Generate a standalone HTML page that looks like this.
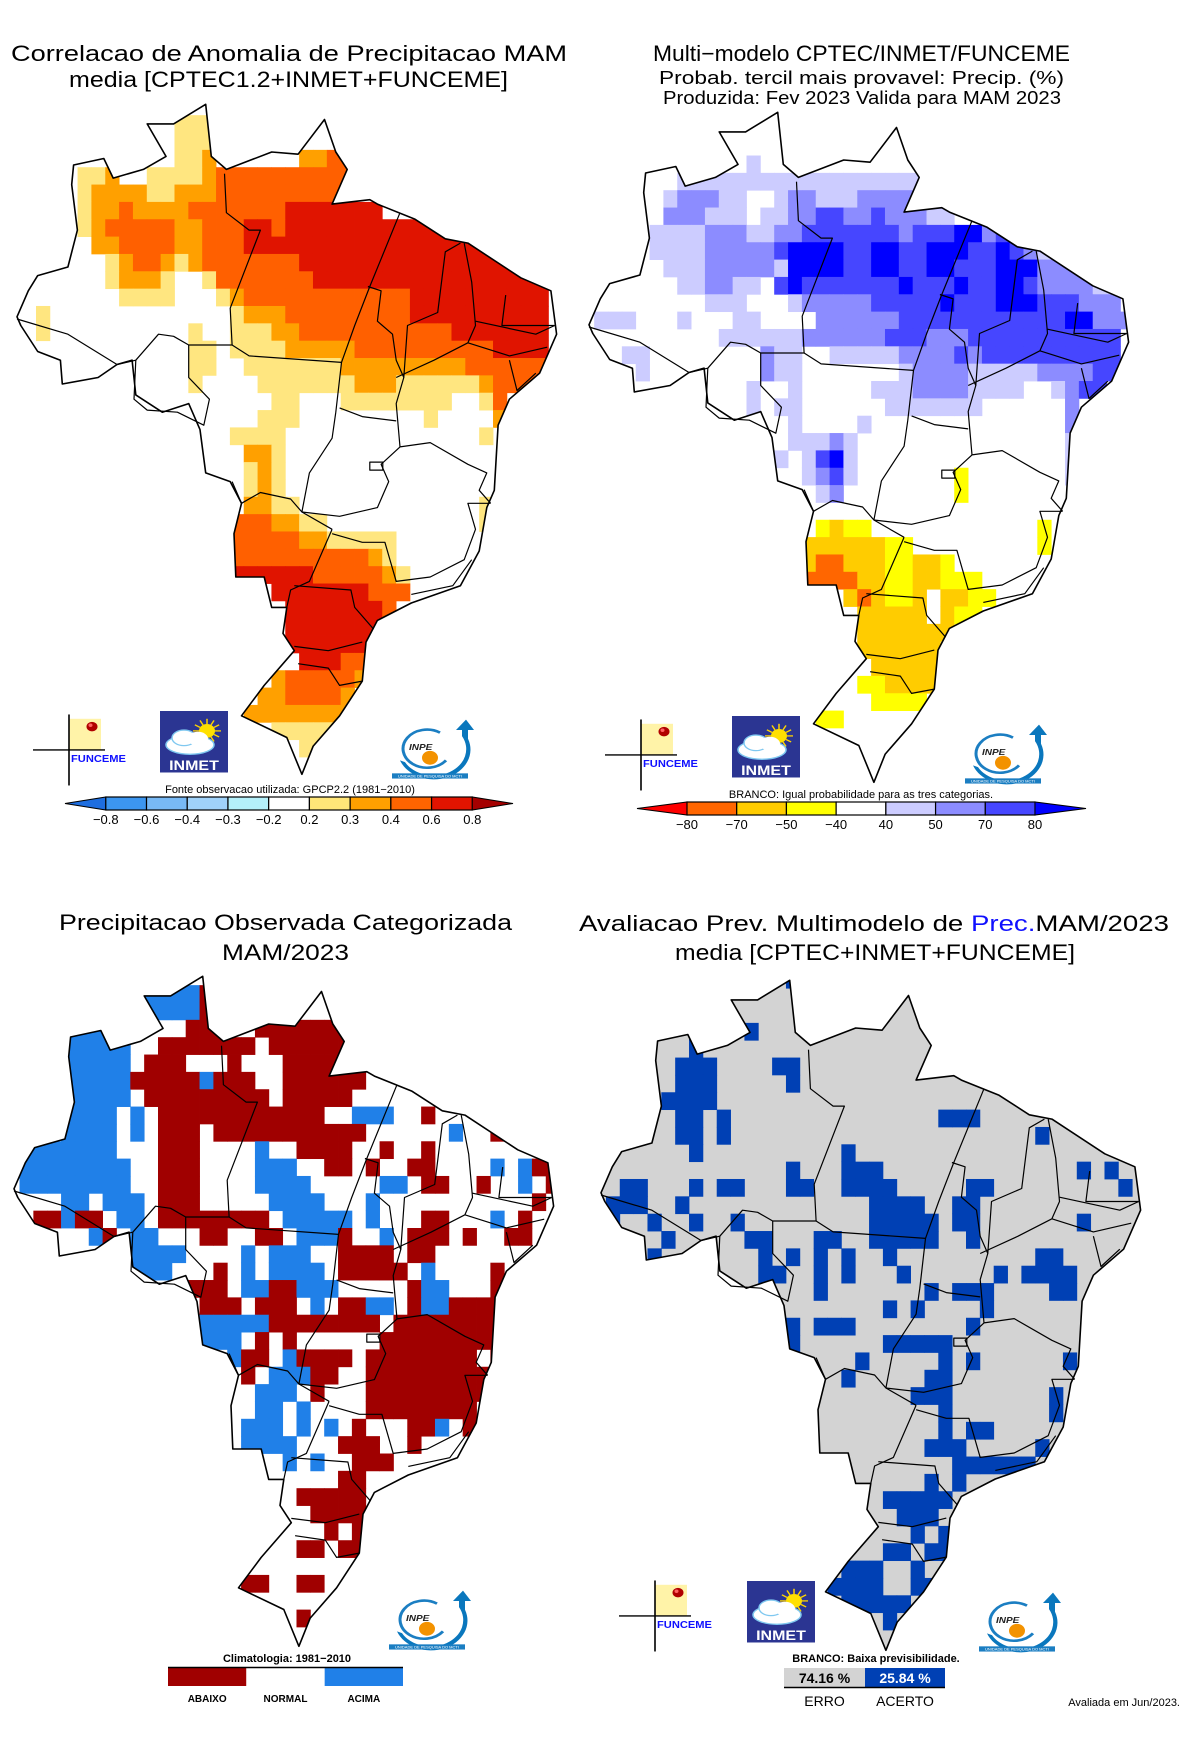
<!DOCTYPE html>
<html><head><meta charset="utf-8"><title>Precipitação MAM 2023</title>
<style>
html,body{margin:0;padding:0;background:#fff;}
svg{display:block;font-family:"Liberation Sans",sans-serif;}
</style></head>
<body>
<svg id="fig" xmlns="http://www.w3.org/2000/svg" width="1184" height="1748" viewBox="0 0 1184 1748">
<defs id="defs"></defs>
<g font-size="22" fill="#000">
<text x="11" y="61" textLength="556" lengthAdjust="spacingAndGlyphs">Correlacao de Anomalia de Precipitacao MAM</text>
<text x="69" y="87" textLength="439" lengthAdjust="spacingAndGlyphs">media [CPTEC1.2+INMET+FUNCEME]</text>
</g>
<g fill="#000">
<text x="653" y="61" font-size="22" textLength="417" lengthAdjust="spacingAndGlyphs">Multi−modelo CPTEC/INMET/FUNCEME</text>
<text x="659" y="84" font-size="18" textLength="405" lengthAdjust="spacingAndGlyphs">Probab. tercil mais provavel: Precip. (%)</text>
<text x="663" y="104" font-size="18" textLength="398" lengthAdjust="spacingAndGlyphs">Produzida: Fev 2023  Valida para MAM 2023</text>
</g>
<g font-size="22" fill="#000">
<text x="59" y="930" textLength="453" lengthAdjust="spacingAndGlyphs">Precipitacao Observada Categorizada</text>
<text x="222" y="960" textLength="127" lengthAdjust="spacingAndGlyphs">MAM/2023</text>
</g>
<g font-size="22" fill="#000">
<text x="579" y="931" textLength="590" lengthAdjust="spacingAndGlyphs">Avaliacao Prev. Multimodelo de <tspan fill="#1010ff">Prec.</tspan>MAM/2023</text>
<text x="675" y="960" textLength="400" lengthAdjust="spacingAndGlyphs">media [CPTEC+INMET+FUNCEME]</text>
</g>
<g id="maps"></g>
<g id="extras"></g>
</svg>
<script>
// ---------- DATA ----------
const tlColors = {Y:"#ffe680",O:"#ffa000",R:"#ff6000",D:"#e01400"};
const tlRows = [
"............YYY",
"............YYY",
"............YYO......OORR",
".....YYO..YYYYORRRRRRRRRR",
".....YOOOOYYOOORRRRRRRRRR",
".....YOOROOOORRRRRRRDDDDDDD",
".....YORRRRROORRRDDRDDDDDDDDDDDDDDDDDDDD",
"......OORRRROORRRDDDDDDDDDDDDDDDDDDDDDDD",
".......YORROYORRRRRRRDDDDDDDDDDDDDDDDDD",
".......YOOOY..YRRRRRRRDDDDDDDDDDDDDDDDD",
"........YYYY...YORRRRRRRRRRRRDDDDDDDDDD",
"..Y.............YOOORRRRRRRRRDDDDDDDDDD",
"..Y..........Y..YYYOORRRRRRRRRRRDDDDDDD",
".............YY.YYYYOOOOORRRRRRRRRRDDDD",
".............YY..YYYYYYYOOOOOOOOORRRRRR",
".............Y....YYYYYYYOOOYYYYYYORRR",
"...................YY...YYYYYYYY..YR",
"..................YYY.........Y....O",
"................YYYY..............Y",
".................OOY",
".................YOY",
".................YOY",
".................OOYY.............Y",
"................RRROOYY...........Y",
"................RRRRROOYYYYY",
"................RRRRRRRRRROY",
"................DDDDDDRRRRROY",
"...................DDDDDDDRRR",
"....................DDDDDDDR",
"....................DDDDDDD",
"....................DDDDDD",
".....................DDDRR",
"...................ORRRRRO",
"..................OORRRRO",
".................OOOOOOOO",
"...................YYYYY",
".....................YY"
];
const trColors = {a:"#ccccff",b:"#8c8cff",d:"#4646ff",e:"#0000ff",y:"#ffff00",g:"#ffcc00",O:"#ff6600"};
const trRows = [
"","","",
"............a",
".......aaaaaaaaaaaaaaaaaa",
"......abbbaa..abbaaabbbbaa",
"......bbbaaa.aabbddbbdbbbaa",
".....aaaabbbaabbdddddddbdddeebddd",
".....aaaabbbbbdeeeeddeeddeeeddedbaa",
"......aaabbbbbaeeeeddeeddeedddeeebbbaa",
".......aabbaa.dedddddddedddeddeedbbbbaa",
".........aaa...abbbbbdddddedddeeedddbbb",
".aaa...a...aa....bbbbbbddddddddddddeebbb",
"..........aaaaaabbbbbbdddbbbddddddddddd",
"...aa........baa..aaaaabbbbdbdddddddddd",
"....a........baa.......abbbbaaaaabbbbdd",
"............a..a.....aaabbbbaaaa..abdd",
"............a.aa......aaaaaaa......b",
"...............a....a..............b",
"...............aaaba...............a",
"..............a.adea...............a",
"................abda.......y.......a",
".................ab........y",
"",
".................ygyy............y",
"................ggggggyy.........y",
"................gOOgggyyggy",
"................OOOOggyyggyyy",
"...................gOgyyg.ggyy",
"....................ggggg.gyy",
"....................ggggggg",
"....................gggggg",
".....................ggggg",
"....................yygggg",
".....................yyyy",
".................yy"
];
const blColors = {R:"#a00000",B:"#2080e8"};
const blRows = [
"..........BBBBR",
"..........BBBBR",
"....BBBBB....RRR..RRRRRRR",
"....BBBBB..RRRRRRR.RRRRRR",
"....BBBBB.RRR...R...RRRRR",
"....BBBBBRRRRRBRRR..RRRRRR",
"....BBBBB.RRRRRRRRR.RRRRR...",
"....BBBB.B.RRRRRRRRRRRR..BBB..R",
"....BBBB.B.RRR.RRRRRRRRRRR......B..RR",
".BBBBBBB...RRR....B..RRRR..R..R",
".BBBBBBBB..RRR....BBB..RR.R..RR....B.BRR",
".BBBBBBBB..RRR....BBBB.....BB.RR..R..B.R",
"....BB.BBB.RRR.....BBBB...B...........R",
"..RRBRR.BB.RRRRRRRR.BBBBB.B...RR...B.R",
"......BR.BB...RR..RR.BBBR..B.RRR.R..RR",
".........BBBB....B.BBB..RRRR.RR",
".........BBB...R.B.BBBB.RRRRR.B....R",
".............RRR.BBRRBBB.....RBB...R",
"..............RRR.RRR.B.RRBB.RBBRRRR",
"..............BBBBBRRRRRRRR.RRRRRRRR",
"..............BBB.R.R......RRRRRRRRR",
"................BRR.BRRRR.RRRRRRRR.R",
".................R.BBBRR..RRRRRRRRRR",
"..................BBB.R...RRRRRRRRR",
"..................BB.B....RRRRRRRR",
".................BBB.B.B.R...RRB.R",
".................BBBB...RRR..R",
"....................B.B..RRR",
"........................RR",
".....................RRRRR",
"......................RRRR",
".......................R.R",
".....................RR.RR",
"",
".................RR..RR",
"",
".....................R"
];
const brColors = {B:"#0040b4"};
const brRows = [
"..............B","","",
".......B...B",
".......B",
"......BBB....BB",
"......BBB.....B",
".....BBBB",
"......BB.B...............BBB",
"......BB.B......................B",
".......B..........B",
"..............B...BBB..............B.B",
"..BB...B.BB...BB..BBBB.....BB.........B",
".BBB..B.............BBBB..BB",
".B..B..B..B.........BBBBB.BB.......B",
".....B.....BB...BB..BBBBB..B",
"....B.......B.B.B.B..B..........BB",
"............BB..B.B...B......B.BBBB",
"................B.......B.BBB....BB",
".....................B.B....B",
"..............B.BBB........B",
"..............B......BBBBB",
"...................B.....B.B......B",
"..................B.....BB",
".......................BBB.......B",
".........................B.......B",
".........................B.BB",
"........................BBB.....B",
"..........................BBBBBB",
"........................B.B",
".....................BBBBB",
"......................BBB",
".......................B.B",
".....................BB.BB",
"..................BBB..B",
".................BBBB..BB",
"..................BBBBB",
".....................B"
];
// colorbar data
const tlBarLabels = ["−0.8","−0.6","−0.4","−0.3","−0.2","0.2","0.3","0.4","0.6","0.8"];
const tlBarColors = ["#1e6ee0","#3c96f0","#78b9f5","#a0d2fa","#b4f0fa","#ffffff","#ffe678","#ffa000","#ff6400","#e11400","#a50000"];
const trBarLabels = ["−80","−70","−50","−40","40","50","70","80"];
const trBarColors = ["#ff0000","#ff6600","#ffcc00","#ffff00","#ffffff","#ccccff","#8c8cff","#4646ff","#0000ff"];
const blCats = ["ABAIXO","NORMAL","ACIMA"];
const blCatColors = ["#a00000","#ffffff","#2080e8"];
const brScores = ["74.16 %","25.84 %"];
const brScoreLabels = ["ERRO","ACERTO"];

// ---------- GEOMETRY ----------
const NS="http://www.w3.org/2000/svg";
const outlineZ=[[45,500],[75,440],[100,405],[180,385],[205,300],[190,195],[195,150],[275,135],[300,180],[380,160],[440,130],[390,55],[460,55],[545,10],[560,130],[600,160],[720,120],[790,125],[860,45],[890,120],[920,160],[880,240],[980,230],[1000,240],[1100,275],[1180,320],[1240,330],[1380,410],[1460,440],[1475,540],[1430,630],[1350,690],[1320,750],[1310,900],[1290,940],[1270,1040],[1220,1120],[1090,1160],[1000,1200],[970,1250],[960,1340],[900,1420],[830,1490],[800,1555],[760,1470],[640,1420],[700,1350],[780,1270],[750,1230],[760,1170],[720,1170],[700,1100],[625,1100],[620,1000],[640,930],[610,880],[545,860],[530,760],[500,700],[430,720],[360,680],[350,600],[310,610],[260,640],[165,655],[160,600],[100,580],[55,520]];
const bordersZ=[
[[595,170],[600,260],[660,300],[690,300],[610,480],[615,565]],
[[500,565],[615,565],[660,590],[905,605]],
[[45,505],[180,540],[310,610],[360,600],[420,540],[460,545],[500,565]],
[[360,600],[355,690],[390,715],[470,720],[540,750],[555,690],[500,640],[500,565]],
[[615,880],[640,930],[690,905],[770,920],[800,950],[880,990]],
[[905,605],[890,720],[880,780],[820,860],[800,950]],
[[905,605],[940,520],[980,430],[1060,260]],
[[975,430],[1010,440],[1000,510],[1040,540],[1050,600],[1070,640],[1050,700],[1060,800]],
[[1070,640],[1080,520],[1160,490],[1180,350],[1220,330]],
[[1230,330],[1250,420],[1260,520],[1240,560]],
[[1340,450],[1330,520],[1400,520],[1470,520]],
[[1260,510],[1420,540],[1470,520]],
[[1240,560],[1350,590],[1450,570]],
[[1050,640],[1150,600],[1240,560]],
[[1350,600],[1370,670],[1420,630]],
[[900,710],[960,730],[1050,740]],
[[1060,800],[1140,790],[1240,840],[1290,860],[1270,900],[1300,930]],
[[800,950],[900,960],[1000,940],[1030,880],[1010,840],[1060,800]],
[[880,990],[820,1110],[770,1130],[760,1170]],
[[880,1000],[960,1020],[1020,1020],[1050,1110],[1140,1100],[1230,1060],[1260,990],[1240,930],[1300,930]],
[[780,1120],[930,1130],[940,1170],[990,1220]],
[[780,1260],[870,1270],[960,1250]],
[[790,1300],[870,1310],[900,1350],[960,1340]],
[[1090,1140],[1200,1120],[1250,1060]]
];
function zp(p,dx,dy){return [(p[0]/2.65+dx).toFixed(1),(100+p[1]/2.306+dy).toFixed(1)];}
function el(tag,attrs,parent){const e=document.createElementNS(NS,tag);for(const k in attrs)e.setAttribute(k,attrs[k]);parent.appendChild(e);return e;}

const maps=[
 {id:"tl",rows:tlRows,colors:tlColors,bg:"#ffffff",dx:0,dy:0,x0:22/2.65,y0:100+35/2.306,name:"correlation-map"},
 {id:"tr",rows:trRows,colors:trColors,bg:"#ffffff",dx:572,dy:8,x0:580+0.8/2.65,y0:100+8/2.306,name:"probability-forecast-map"},
 {id:"bl",rows:blRows,colors:blColors,bg:"#ffffff",dx:-3,dy:872,x0:15/2.65,y0:960+58/2.306,name:"observed-category-map"},
 {id:"br",rows:brRows,colors:brColors,bg:"#d3d3d3",dx:584,dy:876,x0:580+32/2.65,y0:960+25/2.306,name:"forecast-evaluation-map"}
];
const CW=36.7/2.65, CH=40/2.306;
const defs=document.getElementById('defs');
const mapsG=document.getElementById('maps');
maps.forEach(m=>{
  const pts=outlineZ.map(p=>zp(p,m.dx,m.dy).join(',')).join(' ');
  const cp=el('clipPath',{id:'clip-'+m.id},defs);
  el('polygon',{points:pts},cp);
  const g=el('g',{},mapsG);
  
  
  const bg=el('polygon',{points:pts,fill:m.bg},g);
  
  
  const cells=el('g',{'clip-path':'url(#clip-'+m.id+')'},g);
  
  
  m.rows.forEach((row,r)=>{
    for(let c=0;c<row.length;c++){
      const col=m.colors[row[c]];
      if(!col)continue;
      const rc=el('rect',{x:(m.x0+c*CW).toFixed(2),y:(m.y0+r*CH).toFixed(2),width:(CW+0.4).toFixed(2),height:(CH+0.4).toFixed(2),fill:col},cells);
      
      
    }
  });
  const bd=el('g',{fill:'none',stroke:'#000','stroke-width':'1.2','stroke-linejoin':'round'},g);
  
  
  bordersZ.forEach(b=>{
    const pl=el('polyline',{points:b.map(p=>zp(p,m.dx,m.dy).join(',')).join(' ')},bd);
    
    
  });
  const df=zp([980,835],m.dx,m.dy);
  el('rect',{x:df[0],y:df[1],width:13,height:8,fill:'none',stroke:'#000','stroke-width':1.2},bd);
  const ol=el('polygon',{points:pts,fill:'none',stroke:'#000','stroke-width':'1.6','stroke-linejoin':'round'},g);
  
  
});

// ---------- LOGOS ----------
const ex=document.getElementById('extras');
function lg(dx,dy){return el('g',{transform:`translate(${dx},${dy}) translate(0,711) scale(1,0.866) translate(0,-713)`},ex);}
function funceme(dx,dy){
  const g=lg(dx,dy);
  
  
  el('rect',{x:69,y:722,width:32,height:36,fill:'#fff3a8'},g);
  el('line',{x1:69,y1:717,x2:69,y2:799,stroke:'#000','stroke-width':1.6},g);
  el('line',{x1:33,y1:758,x2:105,y2:758,stroke:'#000','stroke-width':1.6},g);
  el('circle',{cx:92,cy:731,r:5.5,fill:'#b00000'},g);
  el('circle',{cx:90.5,cy:729.5,r:2,fill:'#ff6060'},g);
  const t=el('text',{x:71,y:772,'font-size':12,'font-weight':'bold',fill:'#1010ff',textLength:55,lengthAdjust:'spacingAndGlyphs'},g);
  t.textContent='FUNCEME';
}
function inmet(dx,dy){
  const g=lg(dx,dy);
  
  
  el('rect',{x:160,y:713,width:68,height:71,fill:'#2b3592'},g);
  for(let i=0;i<12;i++){const a=i*Math.PI/6;el('line',{x1:207+Math.cos(a)*8,y1:736+Math.sin(a)*8,x2:207+Math.cos(a)*14,y2:736+Math.sin(a)*14,stroke:'#ffd400','stroke-width':1.5},g);}
  el('circle',{cx:207,cy:736,r:8,fill:'#ffe000'},g);
  el('ellipse',{cx:190,cy:752,rx:24,ry:11,fill:'#fff',stroke:'#7fc8f0','stroke-width':1.5},g);
  el('ellipse',{cx:184,cy:744,rx:12,ry:9,fill:'#fff',stroke:'#7fc8f0','stroke-width':1.5},g);
  el('ellipse',{cx:198,cy:745,rx:10,ry:8,fill:'#fff'},g);
  const t=el('text',{x:194,y:781,'font-size':16,'font-weight':'bold',fill:'#fff','text-anchor':'middle'},g);
  t.textContent='INMET';
}
function inpe(dx,dy){
  const g=lg(dx,dy);
  
  
  el('path',{d:'M440 738 A24 22 0 1 0 446 770',fill:'none',stroke:'#1b7ec2','stroke-width':3},g);
  el('path',{d:'M405 772 A30 28 0 0 0 462 742 L462 735 L456 735 L466 723 L474 735 L468 735 L468 745 A36 34 0 0 1 400 770 Z',fill:'#0a77bd'},g);
  el('circle',{cx:430,cy:767,r:8,fill:'#f39200'},g);
  const t=el('text',{x:409,y:758,'font-size':10,'font-weight':'bold','font-style':'italic',fill:'#222'},g);
  t.textContent='INPE';
  el('rect',{x:392,y:785,width:76,height:6,fill:'#1b7ec2'},g);
  const t2=el('text',{x:430,y:790,'font-size':4,fill:'#fff','text-anchor':'middle'},g);
  t2.textContent='UNIDADE DE PESQUISA DO MCTI';
}
funceme(0,0);inmet(0,0);inpe(0,0);
funceme(572,5);inmet(572,5);inpe(573,5);
inpe(-3,871);
funceme(586,866);inmet(587,870);inpe(587,873);

// ---------- COLORBARS ----------
function txt(x,y,s,size,attrs,parent){const t=el('text',Object.assign({x:x,y:y,'font-size':size,'text-anchor':'middle'},attrs||{}),parent);t.textContent=s;return t;}
// top-left
(function(){
  const g=el('g',{},ex);
  
  
  const y0=797,y1=810,ym=(y0+y1)/2,L=65,R=513,a=105.8,b=472.3;
  const n=tlBarLabels.length, step=(b-a)/(n-1);
  el('polygon',{points:`${L},${ym} ${a},${y0} ${a},${y1}`,fill:tlBarColors[0],stroke:'#000'},g);
  for(let i=0;i<n-1;i++){
    const s=el('rect',{x:a+i*step,y:y0,width:step,height:y1-y0,fill:tlBarColors[i+1],stroke:'#000','stroke-width':1.2},g);
    
    
  }
  el('polygon',{points:`${R},${ym} ${b},${y0} ${b},${y1}`,fill:tlBarColors[tlBarColors.length-1],stroke:'#000'},g);
  tlBarLabels.forEach((l,i)=>{const t=txt(a+i*step,824,l,13,{},g);});
  txt(290,793,'Fonte observacao utilizada: GPCP2.2 (1981−2010)',11,{},g);
})();
// top-right
(function(){
  const g=el('g',{},ex);
  
  
  const y0=802,y1=815,ym=(y0+y1)/2,L=637,R=1086,a=687,b=1035;
  el('polygon',{points:`${L},${ym} ${a},${y0} ${a},${y1}`,fill:trBarColors[0],stroke:'#000'},g);
  for(let i=0;i<trBarLabels.length-1;i++){
    const s=el('rect',{x:a+i*(b-a)/7,y:y0,width:(b-a)/7,height:y1-y0,fill:trBarColors[i+1],stroke:'#000','stroke-width':1.2},g);
    
    
  }
  el('polygon',{points:`${R},${ym} ${b},${y0} ${b},${y1}`,fill:trBarColors[trBarColors.length-1],stroke:'#000'},g);
  trBarLabels.forEach((l,i)=>{const t=txt(a+i*(b-a)/7,829,l,13,{},g);});
  txt(861,798,'BRANCO: Igual probabilidade para as tres categorias.',11,{},g);
})();
// bottom-left
(function(){
  const g=el('g',{},ex);
  
  
  const x0=168,w=(403-168)/blCats.length;
  txt(287,1662,'Climatologia: 1981−2010',11,{'font-weight':'bold'},g);
  blCats.forEach((c,i)=>{
    const s=el('rect',{x:x0+i*w,y:1667,width:w,height:19,fill:blCatColors[i]},g);
    
    
    const t=txt(x0+(i+0.5)*w,1702,c,10,{'font-weight':'bold'},g);
    
    
  });
  el('line',{x1:x0,y1:1667.5,x2:403,y2:1667.5,stroke:'#000','stroke-width':1.5},g);
})();
// bottom-right
(function(){
  const g=el('g',{},ex);
  
  
  txt(876,1662,'BRANCO: Baixa previsibilidade.',11,{'font-weight':'bold'},g);
  const xs=[784,865],ws=[81,80],cols=['#d3d3d3','#0040b4'],tc=['#000','#fff'];
  brScores.forEach((s,i)=>{
    const r=el('rect',{x:xs[i],y:1668,width:ws[i],height:19,fill:cols[i]},g);
    
    
    const t=txt(xs[i]+ws[i]/2,1683,s,14,{fill:tc[i],'font-weight':'bold'},g);
    
    
    const l=txt(xs[i]+ws[i]/2,1706,brScoreLabels[i],14,{},g);
    
    
  });
  el('line',{x1:784,y1:1687.5,x2:945,y2:1687.5,stroke:'#000','stroke-width':1.5},g);
  const a=txt(1180,1706,'Avaliada em Jun/2023.',11,{'text-anchor':'end'},g);
  
  
})();
</script>
</body></html>
